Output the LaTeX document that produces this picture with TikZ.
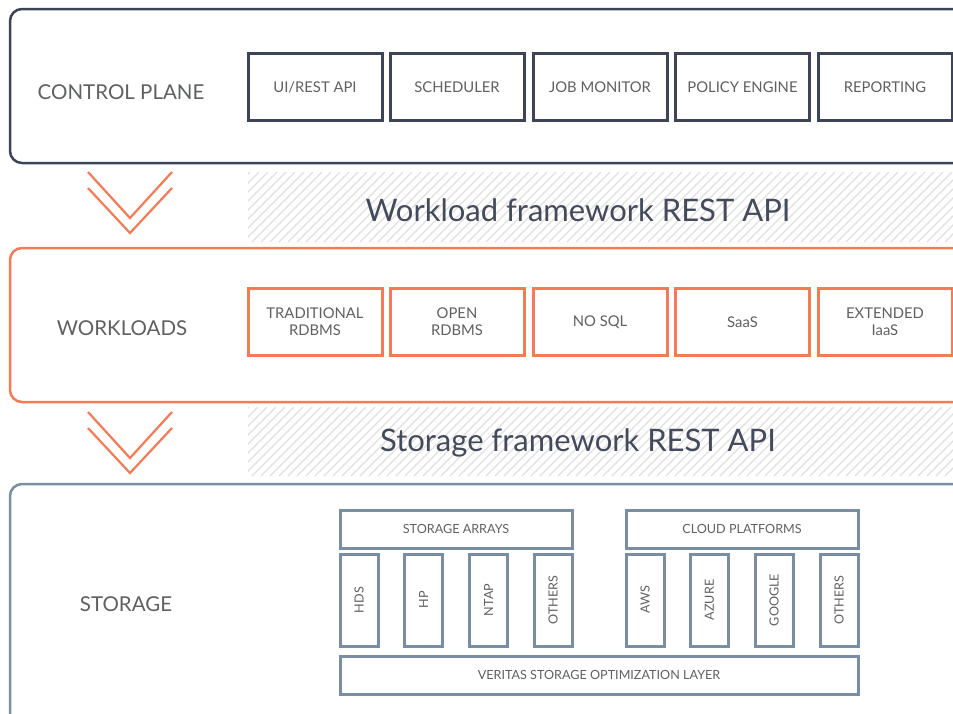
\documentclass[tikz,border=0pt]{standalone}
\usepackage{fontspec}
\setmainfont{Lato}
\definecolor{cpc}{HTML}{3E4458}
\definecolor{orc}{HTML}{F47B55}
\definecolor{stc}{HTML}{7A8EA3}
\definecolor{txc}{HTML}{5F6062}
\definecolor{ttc}{HTML}{434A5C}
\definecolor{hat}{HTML}{E0E0E0}
\tikzset{
  big/.style={line width=2.5pt, rounded corners=12pt},
  sect/.style={text=txc, font=\fontsize{20.5}{24}\selectfont},
  cbox/.style={draw=cpc, line width=3pt, minimum width=134pt, minimum height=67pt, text=txc, font=\fontsize{14.8}{17}\selectfont, inner sep=0pt},
  wbox/.style={draw=orc, line width=3pt, minimum width=134pt, minimum height=67pt, text=txc, font=\fontsize{14.8}{17}\selectfont, align=center, inner sep=0pt},
  sbox/.style={draw=stc, line width=3pt, text=txc, font=\fontsize{12.6}{14}\selectfont, inner sep=0pt},
  vbox/.style={sbox, rotate=90, minimum width=92pt, minimum height=38pt},
  title/.style={text=ttc, font=\fontsize{31}{35}\selectfont},
  chev/.style={draw=orc, line width=2.2pt},
}
\begin{document}
\begin{tikzpicture}[x=1pt,y=-1pt]
\clip (0,0) rectangle (953,713);
\fill[white] (0,0) rectangle (953,713);
% big panels
\draw[big, cpc] (10,9) rectangle (990,163);
\draw[big, orc] (10,248) rectangle (990,402);
\draw[big, stc] (10,484) rectangle (990,760);
% hatched bands
\begin{scope}
\clip (248,172) rectangle (960,242);
\foreach \i in {180,189,...,1000} \draw[hat, line width=1.3pt] (\i,242) -- (\i+70,172);
\end{scope}
\begin{scope}
\clip (248,407) rectangle (960,476);
\foreach \i in {180,189,...,1000} \draw[hat, line width=1.3pt] (\i,476) -- (\i+69,407);
\end{scope}
% section labels
\node[sect] (cp) at (121,92) {CONTROL PLANE};
\node[sect] (wl) at (122,328) {WORKLOADS};
\node[sect] (st) at (126,604) {STORAGE};
% control plane boxes
\node[cbox] (ui) at (315,87) {UI/REST API};
\node[cbox] (sch) at (457,87) {SCHEDULER};
\node[cbox] (jm) at (600,87) {JOB MONITOR};
\node[cbox] (pe) at (742.5,87) {POLICY ENGINE};
\node[cbox] (rep) at (885,87) {REPORTING};
% titles
\node[title] (wt) at (578,210) {Workload framework REST API};
\node[title] (stt) at (578,443) {Storage framework REST API};
% workload boxes
\node[wbox] (trad) at (315,322) {TRADITIONAL\\RDBMS};
\node[wbox] (open) at (457,322) {OPEN\\RDBMS};
\node[wbox] (nosql) at (600,322) {NO SQL};
\node[wbox] (saas) at (742.5,322) {SaaS};
\node[wbox] (ext) at (885,322) {EXTENDED\\IaaS};
% chevrons
\coordinate (c1a) at (88,172); \coordinate (c1b) at (130,218); \coordinate (c1c) at (172,172);
\coordinate (c2a) at (88,188); \coordinate (c2b) at (130,233); \coordinate (c2c) at (172,188);
\draw[chev] (c1a) -- (c1b) -- (c1c);
\draw[chev] (c2a) -- (c2b) -- (c2c);
\coordinate (d1a) at (88,412); \coordinate (d1b) at (130,458); \coordinate (d1c) at (172,412);
\coordinate (d2a) at (88,428); \coordinate (d2b) at (130,473); \coordinate (d2c) at (172,428);
\draw[chev] (d1a) -- (d1b) -- (d1c);
\draw[chev] (d2a) -- (d2b) -- (d2c);
% storage
\node[sbox, minimum width=232pt, minimum height=38pt] (sa) at (456,529) {STORAGE ARRAYS};
\node[sbox, minimum width=232pt, minimum height=38pt] (cpf) at (742,529) {CLOUD PLATFORMS};
\node[vbox] (hds) at (359,600) {HDS};
\node[vbox] (hp) at (423.5,600) {HP};
\node[vbox] (ntap) at (488.5,600) {NTAP};
\node[vbox] (oth1) at (553,600) {OTHERS};
\node[vbox] (aws) at (645,600) {AWS};
\node[vbox] (azure) at (709.5,600) {AZURE};
\node[vbox] (google) at (774,600) {GOOGLE};
\node[vbox] (oth2) at (839,600) {OTHERS};
\node[sbox, minimum width=518pt, minimum height=38pt] (vsol) at (599,675) {VERITAS STORAGE OPTIMIZATION LAYER};
\end{tikzpicture}
\end{document}
